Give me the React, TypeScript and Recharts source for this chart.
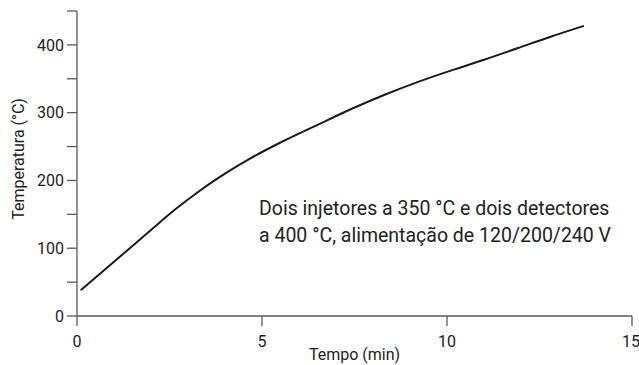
import { LineChart, Line, XAxis, YAxis } from 'recharts';

// tempo (min) e temperatura (°C)
const times = [0.1, 1.0, 2.0, 2.65, 3.3, 3.8, 4.7, 5.5, 6.5, 7.4, 8.3, 9.2, 10.1, 11.0, 11.9, 12.8, 13.7];
const temps = [38, 80, 127, 157, 184, 203, 233, 256, 282, 305, 326, 345, 362, 378, 395, 412, 428];

const xTicks = [0, 5, 10, 15];
const yTicks = [0, 50, 100, 150, 200, 250, 300, 350, 400, 450];

const xTitle = 'Tempo (min)';
const yTitle = 'Temperatura (°C)';
const noteLines = ['Dois injetores a 350 °C e dois detectores', 'a 400 °C, alimentação de 120/200/240 V'];

const data = times.map((t, i) => ({ t, temp: temps[i] }));

const FONT = 'Roboto, sans-serif';
const TEXT = '#222';
const AXIS = '#5a5a5a';

export default function App() {
  return (
    <div style={{ position: 'absolute', left: 0, top: 0, width: 639, height: 365, background: '#fff', fontFamily: FONT }}>
      <LineChart width={639} height={365} data={data} margin={{ top: 11, right: 7, left: 0, bottom: 9 }}>
        <XAxis
          type="number"
          dataKey="t"
          domain={[0, 15]}
          ticks={xTicks}
          height={40}
          tickSize={10}
          tickMargin={10}
          axisLine={{ stroke: AXIS, strokeWidth: 1.3 }}
          tickLine={{ stroke: AXIS, strokeWidth: 1.3 }}
          tick={{ fontSize: 16, fill: TEXT, fontFamily: FONT }}
          label={{
            content: () => (
              <text x={354.5} y={360} textAnchor="middle" fontSize={16} fill={TEXT} fontFamily={FONT}>
                {xTitle}
              </text>
            ),
          }}
        />
        <YAxis
          type="number"
          domain={[0, 450]}
          ticks={yTicks}
          interval={0}
          width={77}
          tickSize={10}
          tickMargin={3}
          tickFormatter={(v: number) => (v % 100 === 0 ? String(v) : '')}
          axisLine={{ stroke: AXIS, strokeWidth: 1.3 }}
          tickLine={{ stroke: AXIS, strokeWidth: 1.3 }}
          tick={{ fontSize: 16, fill: TEXT, fontFamily: FONT }}
          label={{
            content: () => (
              <text
                x={23.5}
                y={159}
                transform="rotate(-90, 23.5, 159)"
                textAnchor="middle"
                fontSize={16}
                fill={TEXT}
                fontFamily={FONT}
              >
                {yTitle}
              </text>
            ),
          }}
        />
        <Line
          type="monotone"
          dataKey="temp"
          stroke="#1a1a1a"
          strokeWidth={2}
          dot={false}
          isAnimationActive={false}
        />
      </LineChart>
      <div style={{ position: 'absolute', left: 259, top: 195, fontSize: 19.5, lineHeight: '27px', color: TEXT, whiteSpace: 'nowrap' }}>
        {noteLines.map((l) => (
          <div key={l}>{l}</div>
        ))}
      </div>
    </div>
  );
}
